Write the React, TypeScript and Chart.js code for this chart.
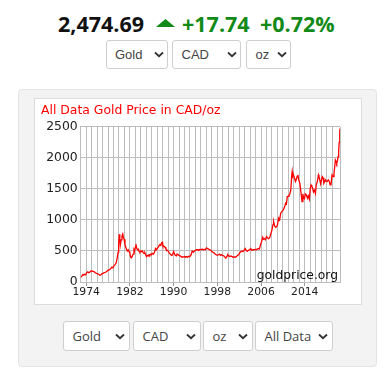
import React, { useEffect, useRef } from "react";
import { Chart, registerables } from "chart.js";

Chart.register(...registerables);

// ---- data (decimal year, CAD per oz) ----
const years: number[] = [
  1973.0, 1973.2, 1973.4, 1973.5, 1973.7, 1973.9, 1974.1, 1974.3, 1974.5, 1974.7, 1974.9,
  1975.1, 1975.3, 1975.5, 1975.7, 1975.9, 1976.1, 1976.3, 1976.5, 1976.7, 1976.9,
  1977.1, 1977.3, 1977.5, 1977.7, 1977.9, 1978.1, 1978.3, 1978.5, 1978.7, 1978.9,
  1979.1, 1979.3, 1979.5, 1979.7, 1979.85, 1979.95, 1980.05, 1980.15, 1980.25, 1980.4,
  1980.55, 1980.7, 1980.8, 1980.95, 1981.1, 1981.25, 1981.4, 1981.55, 1981.7, 1981.85,
  1982.0, 1982.15, 1982.3, 1982.45, 1982.6, 1982.75, 1982.85, 1983.0, 1983.1, 1983.25,
  1983.4, 1983.55, 1983.7, 1983.85, 1984.0, 1984.15, 1984.3, 1984.45, 1984.6, 1984.75,
  1984.9, 1985.05, 1985.2, 1985.35, 1985.5, 1985.65, 1985.8, 1985.95, 1986.1, 1986.3,
  1986.5, 1986.7, 1986.85, 1987.0, 1987.2, 1987.35, 1987.5, 1987.65, 1987.8, 1987.9,
  1988.0, 1988.15, 1988.3, 1988.45, 1988.6, 1988.8, 1989.0, 1989.2, 1989.4, 1989.6,
  1989.8, 1990.0, 1990.15, 1990.3, 1990.5, 1990.65, 1990.8, 1991.0, 1991.2, 1991.4,
  1991.6, 1991.8, 1992.0, 1992.2, 1992.4, 1992.6, 1992.8, 1993.0, 1993.2, 1993.4,
  1993.6, 1993.8, 1994.0, 1994.2, 1994.4, 1994.6, 1994.8, 1995.0, 1995.2, 1995.4,
  1995.6, 1995.8, 1996.0, 1996.2, 1996.4, 1996.6, 1996.8, 1997.0, 1997.2, 1997.4,
  1997.6, 1997.8, 1998.0, 1998.2, 1998.4, 1998.6, 1998.8, 1999.0, 1999.2, 1999.4,
  1999.55, 1999.8, 1999.9, 2000.1, 2000.3, 2000.5, 2000.7, 2000.9, 2001.1, 2001.3,
  2001.5, 2001.7, 2001.9, 2002.1, 2002.3, 2002.5, 2002.7, 2002.9, 2003.1, 2003.3,
  2003.5, 2003.7, 2003.9, 2004.1, 2004.3, 2004.5, 2004.7, 2004.9, 2005.1, 2005.3,
  2005.5, 2005.7, 2005.9, 2006.1, 2006.3, 2006.45, 2006.6, 2006.8, 2007.0, 2007.2,
  2007.4, 2007.6, 2007.8, 2008.0, 2008.2, 2008.3, 2008.5, 2008.7, 2008.85, 2009.0,
  2009.2, 2009.4, 2009.6, 2009.8, 2010.0, 2010.2, 2010.35, 2010.5, 2010.65, 2010.8,
  2010.95, 2011.1, 2011.3, 2011.45, 2011.6, 2011.7, 2011.8, 2011.95, 2012.1, 2012.3,
  2012.45, 2012.6, 2012.75, 2012.9, 2013.1, 2013.3, 2013.4, 2013.5, 2013.65, 2013.8,
  2013.95, 2014.1, 2014.3, 2014.5, 2014.65, 2014.85, 2015.0, 2015.15, 2015.3, 2015.45,
  2015.6, 2015.8, 2015.95, 2016.1, 2016.3, 2016.5, 2016.6, 2016.75, 2016.9, 2017.05,
  2017.2, 2017.35, 2017.5, 2017.65, 2017.8, 2017.95, 2018.1, 2018.3, 2018.5, 2018.65,
  2018.8, 2019.0, 2019.2, 2019.35, 2019.5, 2019.6, 2019.75, 2019.85, 2020.0, 2020.1,
  2020.2, 2020.3, 2020.4, 2020.45,
];

const prices: number[] = [
  75, 95, 120, 110, 125, 115, 150, 165, 150, 160, 180,
  175, 170, 165, 145, 140, 130, 125, 110, 115, 135,
  140, 150, 155, 165, 180, 195, 200, 215, 240, 230,
  265, 280, 310, 400, 480, 620, 770, 700, 600, 680,
  740, 775, 720, 690, 600, 560, 520, 500, 520, 490,
  460, 400, 390, 420, 450, 520, 500, 560, 610, 540,
  520, 530, 490, 480, 500, 490, 500, 470, 460, 470,
  440, 410, 430, 420, 440, 430, 450, 440, 460, 450,
  480, 540, 520, 540, 560, 590, 600, 590, 630, 640,
  600, 580, 570, 560, 530, 510, 500, 470, 450, 430,
  440, 490, 460, 430, 420, 450, 440, 430, 420, 410,
  400, 405, 410, 400, 410, 400, 415, 410, 440, 500,
  480, 500, 510, 520, 520, 510, 525, 520, 530, 520,
  525, 520, 550, 540, 530, 520, 510, 490, 480, 470,
  450, 440, 430, 440, 450, 430, 440, 430, 420, 400,
  385, 420, 440, 420, 410, 420, 410, 400, 405, 400,
  410, 430, 440, 470, 490, 500, 490, 510, 540, 505,
  495, 510, 520, 540, 510, 520, 520, 525, 520, 530,
  540, 530, 597, 650, 720, 690, 700, 680, 731, 710,
  700, 720, 780, 839, 930, 973, 900, 880, 892, 919,
  1030, 1000, 1108, 1134, 1150, 1189, 1220, 1270, 1260, 1376,
  1380, 1390, 1431, 1484, 1700, 1779, 1700, 1726, 1680, 1618,
  1650, 1700, 1726, 1645, 1592, 1450, 1376, 1295, 1420, 1350,
  1340, 1420, 1403, 1350, 1390, 1334, 1500, 1565, 1540, 1511,
  1450, 1480, 1430, 1565, 1618, 1726, 1700, 1645, 1580, 1640,
  1699, 1680, 1592, 1620, 1645, 1620, 1618, 1645, 1620, 1565,
  1570, 1726, 1700, 1753, 1870, 1968, 1940, 1914, 1960, 2021,
  2100, 2250, 2420, 2474.69,
];

const xTickLabels: string[] = ["1974", "1982", "1990", "1998", "2006", "2014"];
const yTickValues: number[] = [0, 500, 1000, 1500, 2000, 2500];

const headerPrice = "2,474.69";
const headerChange = "+17.74";
const headerPct = "+0.72%";
const chartTitle = "All Data Gold Price in CAD/oz";
const watermark = "goldprice.org";
const topSelects: string[] = ["Gold", "CAD", "oz"];
const bottomSelects: string[] = ["Gold", "CAD", "oz", "All Data"];

const GREEN = "#118a17";

function Chevron({ color = "#333" }: { color?: string }) {
  return (
    <svg width="10" height="7" viewBox="0 0 10 7" style={{ display: "block" }}>
      <polyline points="1,1.5 5,5.2 9,1.5" fill="none" stroke={color} strokeWidth="1.8" />
    </svg>
  );
}

function FakeSelect(props: {
  left: number; top: number; width: number; height: number; label: string;
  font: string; size: number; chevRight: number;
}) {
  const { left, top, width, height, label, font, size, chevRight } = props;
  return (
    <div
      style={{
        position: "absolute", left, top, width, height, boxSizing: "border-box",
        border: "1px solid #cfcfcf", borderRadius: 3, background: "#fff",
      }}
    >
      <span
        style={{
          position: "absolute", left: 8.5, top: 0, lineHeight: `${height - 2}px`,
          fontFamily: font, fontSize: size, color: "#444", whiteSpace: "nowrap",
        }}
      >
        {label}
      </span>
      <div style={{ position: "absolute", right: chevRight, top: (height - 2) / 2 - 3 }}>
        <Chevron />
      </div>
    </div>
  );
}

function GoldChart() {
  const ref = useRef<HTMLCanvasElement | null>(null);
  useEffect(() => {
    if (!ref.current) return;
    const points = years.map((x, i) => ({ x, y: prices[i] }));
    const watermarkPlugin = {
      id: "watermark",
      afterDatasetsDraw(chart: any) {
        const { ctx, chartArea } = chart;
        ctx.save();
        ctx.font = '12.3px "DejaVu Sans"';
        ctx.fillStyle = "#111";
        ctx.textAlign = "right";
        ctx.textBaseline = "alphabetic";
        ctx.fillText(watermark, chartArea.right - 2, chartArea.bottom - 3);
        ctx.restore();
      },
    };
    const chart = new Chart(ref.current, {
      type: "line",
      data: {
        datasets: [
          {
            data: points,
            borderColor: "#ff0000",
            borderWidth: 1.3,
            pointRadius: 0,
            tension: 0,
            fill: false,
          },
        ],
      },
      options: {
        animation: false,
        responsive: false,
        maintainAspectRatio: false,
        parsing: false as any,
        layout: { padding: { left: 6, right: 20, top: 0, bottom: 0 } },
        plugins: {
          legend: { display: false },
          tooltip: { enabled: false },
          title: {
            display: true,
            text: chartTitle,
            align: "start",
            color: "#ff0000",
            font: { family: "DejaVu Sans", size: 12.4, weight: "normal" },
            padding: { top: 4, bottom: 9 },
          },
        },
        scales: {
          x: {
            type: "linear",
            min: 1973,
            max: 2020.45,
            afterFit: (s: any) => { s.height = 22; },
            ticks: {
              stepSize: 1,
              autoSkip: false,
              maxRotation: 0,
              padding: 0,
              color: "#222",
              font: { family: "DejaVu Sans", size: 10.8 },
              callback: (v: any) => {
                const lbl = String(Math.round(Number(v)));
                return Math.abs(Number(v) - Math.round(Number(v))) < 1e-6 && xTickLabels.includes(lbl) ? lbl : "";
              },
            },
            grid: {
              color: "#bdbdbd",
              lineWidth: 1,
              tickLength: 4,
              tickColor: (c: any) => {
                const v = c.tick ? c.tick.value : NaN;
                return xTickLabels.includes(String(v)) ? "#999" : "rgba(0,0,0,0)";
              },
            },
            border: { color: "#bdbdbd" },
          },
          y: {
            min: 0,
            max: 2500,
            afterFit: (s: any) => { s.width = 39.7; },
            afterBuildTicks: (s: any) => { s.ticks = yTickValues.map((value) => ({ value })); },
            ticks: {
              padding: 3,
              color: "#222",
              font: { family: "DejaVu Sans", size: 12.4 },
              callback: (v: any) => String(v),
            },
            grid: { color: "#bdbdbd", lineWidth: 1, drawTicks: false },
            border: { color: "#bdbdbd" },
          },
        },
      },
      plugins: [watermarkPlugin],
    } as any);
    return () => chart.destroy();
  }, []);
  return <canvas ref={ref} width={325} height={205} style={{ width: 325, height: 205, display: "block" }} />;
}

export default function App() {
  const hdr: React.CSSProperties = {
    position: "absolute", top: 13.2, lineHeight: "21.5px", fontFamily: "'Open Sans'",
    fontWeight: 700, fontSize: 21.5, whiteSpace: "nowrap",
  };
  return (
    <div style={{ position: "absolute", left: 0, top: 0, width: 392, height: 381, background: "#fff", overflow: "hidden" }}>
      <span style={{ ...hdr, left: 58, color: "#111" }}>{headerPrice}</span>
      <svg style={{ position: "absolute", left: 155.5, top: 18.5 }} width="19" height="8" viewBox="0 0 19 8">
        <polygon points="0,8 9.5,0 19,8" fill={GREEN} />
      </svg>
      <span style={{ ...hdr, left: 182, color: GREEN }}>{headerChange}</span>
      <span style={{ ...hdr, left: 260, color: GREEN }}>{headerPct}</span>

      <FakeSelect left={105.5} top={39.5} width={62} height={29} label={topSelects[0]} font="'Liberation Sans'" size={13} chevRight={3} />
      <FakeSelect left={172} top={39.5} width={69} height={29} label={topSelects[1]} font="'Liberation Sans'" size={13} chevRight={3} />
      <FakeSelect left={246} top={39.5} width={45} height={29} label={topSelects[2]} font="'Liberation Sans'" size={13} chevRight={3} />

      <div style={{ position: "absolute", left: 18, top: 89, width: 359, height: 278, boxSizing: "border-box", background: "#f3f3f3", border: "1px solid #e4e4e4", borderRadius: 4 }} />
      <div style={{ position: "absolute", left: 34, top: 98, width: 328, height: 207, boxSizing: "border-box", background: "#fff", border: "1px solid #dcdcdc" }} />
      <div style={{ position: "absolute", left: 35, top: 99 }}>
        <GoldChart />
      </div>

      <FakeSelect left={63} top={321} width={67} height={30} label={bottomSelects[0]} font="'Open Sans'" size={13} chevRight={4} />
      <FakeSelect left={133} top={321} width={68} height={30} label={bottomSelects[1]} font="'Open Sans'" size={13} chevRight={4} />
      <FakeSelect left={203} top={321} width={49.5} height={30} label={bottomSelects[2]} font="'Open Sans'" size={13} chevRight={4} />
      <FakeSelect left={255} top={321} width={78} height={30} label={bottomSelects[3]} font="'Open Sans'" size={13} chevRight={4} />
    </div>
  );
}
